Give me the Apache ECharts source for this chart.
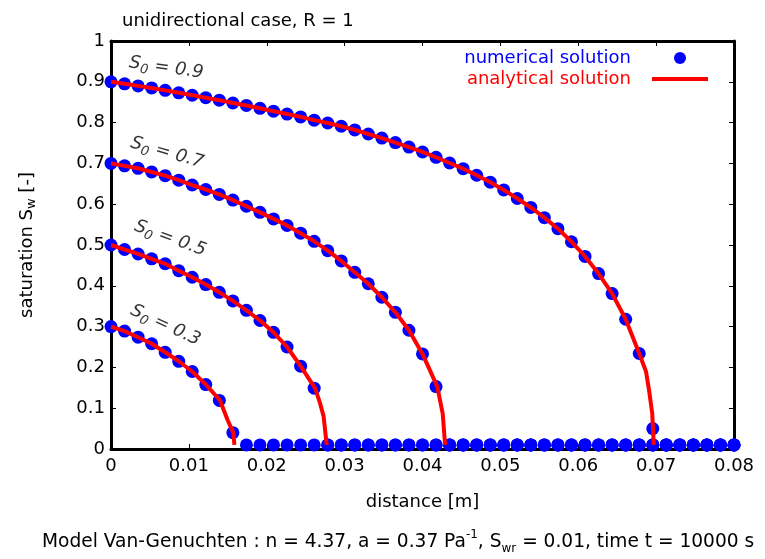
<!DOCTYPE html>
<html><head><meta charset="utf-8">
<script src="https://cdn.jsdelivr.net/npm/echarts@6/dist/echarts.min.js"></script>
<style>html,body{margin:0;padding:0;background:#fff}#c{width:765px;height:559px}</style>
</head><body><div id="c"></div>
<script>
// grid nodes (distance, m)
const distance = [0, 0.00174, 0.00348, 0.00522, 0.00696, 0.00870, 0.01043, 0.01217, 0.01391, 0.01565,
  0.01739, 0.01913, 0.02087, 0.02261, 0.02435, 0.02609, 0.02783, 0.02957, 0.03130, 0.03304,
  0.03478, 0.03652, 0.03826, 0.04000, 0.04174, 0.04348, 0.04522, 0.04696, 0.04870, 0.05043,
  0.05217, 0.05391, 0.05565, 0.05739, 0.05913, 0.06087, 0.06261, 0.06435, 0.06609, 0.06783,
  0.06957, 0.07130, 0.07304, 0.07478, 0.07652, 0.07826, 0.08000];

// numerical solution (saturation at each node)
const numS09 = [0.900, 0.895, 0.890, 0.885, 0.879, 0.873, 0.867, 0.861, 0.855, 0.848,
  0.842, 0.835, 0.828, 0.821, 0.814, 0.806, 0.799, 0.791, 0.782, 0.772,
  0.762, 0.751, 0.740, 0.728, 0.715, 0.701, 0.687, 0.671, 0.654, 0.635,
  0.614, 0.592, 0.567, 0.540, 0.508, 0.472, 0.430, 0.381, 0.318, 0.234,
  0.050, 0.01, 0.01, 0.01, 0.01, 0.01, 0.01];
const numS07 = [0.700, 0.694, 0.688, 0.679, 0.670, 0.659, 0.647, 0.636, 0.624, 0.610,
  0.595, 0.580, 0.564, 0.548, 0.529, 0.509, 0.486, 0.461, 0.433, 0.405,
  0.372, 0.335, 0.291, 0.233, 0.153, 0.01, 0.01, 0.01, 0.01, 0.01,
  0.01, 0.01, 0.01, 0.01, 0.01, 0.01, 0.01, 0.01, 0.01, 0.01,
  0.01, 0.01, 0.01, 0.01, 0.01, 0.01, 0.01];
const numS05 = [0.500, 0.489, 0.478, 0.466, 0.454, 0.437, 0.421, 0.403, 0.384, 0.363,
  0.340, 0.315, 0.286, 0.250, 0.203, 0.149, 0.01, 0.01, 0.01, 0.01,
  0.01, 0.01, 0.01, 0.01, 0.01, 0.01, 0.01, 0.01, 0.01, 0.01,
  0.01, 0.01, 0.01, 0.01, 0.01, 0.01, 0.01, 0.01, 0.01, 0.01,
  0.01, 0.01, 0.01, 0.01, 0.01, 0.01, 0.01];
const numS03 = [0.300, 0.289, 0.274, 0.258, 0.237, 0.215, 0.190, 0.158, 0.119, 0.040,
  0.01, 0.01, 0.01, 0.01, 0.01, 0.01, 0.01, 0.01, 0.01, 0.01,
  0.01, 0.01, 0.01, 0.01, 0.01, 0.01, 0.01, 0.01, 0.01, 0.01,
  0.01, 0.01, 0.01, 0.01, 0.01, 0.01, 0.01, 0.01, 0.01, 0.01,
  0.01, 0.01, 0.01, 0.01, 0.01, 0.01, 0.01];

// analytical solution: follows the nodes, then a steep front (x, S)
const anaNodes09 = 40, anaTail09 = [[0.0687, 0.19], [0.0691, 0.143], [0.0695, 0.087], [0.0697, 0.01]];
const anaNodes07 = 24, anaTail07 = [[0.0419, 0.153], [0.0423, 0.115], [0.0426, 0.086], [0.0429, 0.01]];
const anaNodes05 = 15, anaTail05 = [[0.0262, 0.149], [0.0268, 0.115], [0.0273, 0.080], [0.0277, 0.01]];
const anaNodes03 = 8,  anaTail03 = [[0.0140, 0.119], [0.0150, 0.070], [0.0157, 0.040], [0.01585, 0.01]];

// curve labels: S0 value, position (x, S), rotation
const labelNames = ['0.9', '0.7', '0.5', '0.3'];
const labelPos = [[0.0071, 0.934], [0.0072, 0.726], [0.0076, 0.516], [0.0070, 0.303]];
const labelRot = [-8, -16, -20, -25];

const xTicks = [0, 0.01, 0.02, 0.03, 0.04, 0.05, 0.06, 0.07, 0.08];
const yTicks = [0, 0.1, 0.2, 0.3, 0.4, 0.5, 0.6, 0.7, 0.8, 0.9, 1];

const FONT = 'DejaVu Sans';
const BLUE = '#0000ff', RED = '#ff0000';

function numSeries(vals) {
  return {
    type: 'scatter', name: 'numerical solution', symbol: 'circle', symbolSize: 13,
    itemStyle: { color: BLUE, opacity: 1 }, z: 2, silent: true,
    data: distance.map((x, i) => [x, vals[i]])
  };
}
function anaSeries(vals, n, tail) {
  return {
    type: 'line', name: 'analytical solution', showSymbol: false, symbol: 'none', z: 3, silent: true,
    smooth: false,
    lineStyle: { color: RED, width: 4, join: 'round', cap: 'butt' }, itemStyle: { color: RED },
    data: distance.slice(0, n).map((x, i) => [x, vals[i]]).concat(tail)
  };
}
const fmtX = v => v === 0 ? '0' : v.toFixed(2);
const fmtY = v => v === 0 ? '0' : (v === 1 ? '1' : v.toFixed(1));

const axisLineStyle = { show: true, onZero: false, lineStyle: { color: '#000', width: 3 } };
const tickStyle = { show: true, inside: true, length: 5, lineStyle: { color: '#000', width: 1 } };

const option = {
  animation: false,
  backgroundColor: '#fff',
  title: [
    { text: 'unidirectional case, R = 1', left: 117, top: 7,
      textStyle: { fontFamily: FONT, fontSize: 18, fontWeight: 'normal', color: '#000' } },
    { text: 'Model Van-Genuchten : n = 4.37, a = 0.37 Pa{sup|-1}, S{sub|wr} = 0.01, time t = 10000 s',
      left: 37, top: 524,
      textStyle: { fontFamily: FONT, fontSize: 18.6, fontWeight: 'normal', color: '#000', lineHeight: 26,
        rich: {
          sup: { fontFamily: FONT, fontSize: 12, color: '#000', verticalAlign: 'top', lineHeight: 26 },
          sub: { fontFamily: FONT, fontSize: 12, color: '#000', verticalAlign: 'bottom', lineHeight: 26 }
        } } }
  ],
  legend: {
    orient: 'vertical', right: 52, top: 44, align: 'right',
    itemWidth: 56, itemHeight: 12, itemGap: 3, selectedMode: false,
    textStyle: { fontFamily: FONT, fontSize: 18, padding: [0, 16, 0, 0] },
    data: [
      { name: 'numerical solution', icon: 'circle', textStyle: { color: BLUE } },
      { name: 'analytical solution', icon: 'path://M0,0L56,0L56,4L0,4Z', textStyle: { color: RED } }
    ]
  },
  grid: { left: 111, right: 31, top: 41, bottom: 110, containLabel: false },
  xAxis: [
    { type: 'value', min: xTicks[0], max: xTicks[xTicks.length - 1], interval: 0.01, position: 'bottom',
      axisLine: axisLineStyle, axisTick: tickStyle, splitLine: { show: false },
      axisLabel: { fontFamily: FONT, fontSize: 18, color: '#000', margin: 8, formatter: fmtX },
      name: 'distance [m]', nameLocation: 'middle', nameGap: 44,
      nameTextStyle: { fontFamily: FONT, fontSize: 18, color: '#000' } },
    { type: 'value', min: xTicks[0], max: xTicks[xTicks.length - 1], interval: 0.01, position: 'top',
      axisLine: axisLineStyle, axisTick: tickStyle, splitLine: { show: false }, axisLabel: { show: false } }
  ],
  yAxis: [
    { type: 'value', min: yTicks[0], max: yTicks[yTicks.length - 1], interval: 0.1, position: 'left',
      axisLine: axisLineStyle, axisTick: tickStyle, splitLine: { show: false },
      axisLabel: { fontFamily: FONT, fontSize: 18, color: '#000', margin: 6, formatter: fmtY },
      name: 'saturation S{sub|w} [-]', nameLocation: 'middle', nameGap: 73,
      nameTextStyle: { fontFamily: FONT, fontSize: 18, color: '#000',
        rich: { sub: { fontFamily: FONT, fontSize: 13, color: '#000', verticalAlign: 'bottom', padding: [8, 0, 0, 0] } } } },
    { type: 'value', min: yTicks[0], max: yTicks[yTicks.length - 1], interval: 0.1, position: 'right',
      axisLine: axisLineStyle, axisTick: tickStyle, splitLine: { show: false }, axisLabel: { show: false } }
  ],
  series: [
    numSeries(numS09), numSeries(numS07), numSeries(numS05), numSeries(numS03),
    anaSeries(numS09, anaNodes09, anaTail09),
    anaSeries(numS07, anaNodes07, anaTail07),
    anaSeries(numS05, anaNodes05, anaTail05),
    anaSeries(numS03, anaNodes03, anaTail03),
    {
      type: 'scatter', name: 'labels', symbolSize: 0, silent: true, z: 5,
      data: labelNames.map((n, i) => ({ name: n, value: labelPos[i], label: { rotate: labelRot[i] } })),
      label: {
        show: true, position: 'inside', color: '#000',
        formatter: p => '{s|S}{sub|0}{t| = ' + p.name + '}',
        rich: {
          s: { fontFamily: FONT, fontStyle: 'italic', fontSize: 18, color: '#000' },
          sub: { fontFamily: FONT, fontStyle: 'italic', fontSize: 13, color: '#000', padding: [10, 0, 0, 0] },
          t: { fontFamily: FONT, fontStyle: 'italic', fontSize: 18, color: '#000' }
        }
      }
    }
  ]
};
const chart = echarts.init(document.getElementById('c'), null, { renderer: 'canvas' });
chart.setOption(option);
</script>
</body></html>
